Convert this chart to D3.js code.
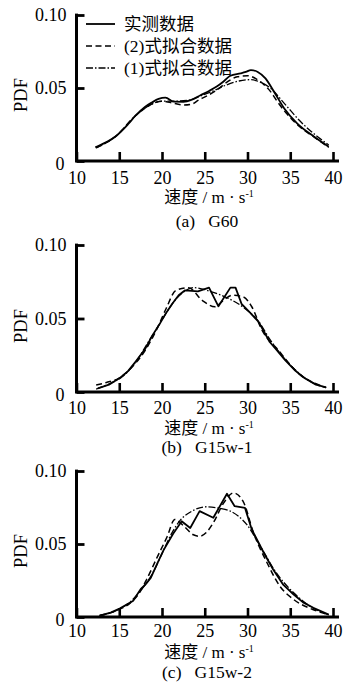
<!DOCTYPE html>
<html>
<head>
<meta charset="utf-8">
<script src="https://cdn.jsdelivr.net/npm/d3@7"></script>
<style>
  body { margin: 0; background: #fff; }
  text { font-family: "Liberation Serif", "Noto Sans CJK SC", serif; fill: #000; }
</style>
</head>
<body>
<svg id="chart"></svg>
<script>
var svgWidth = 350;
var svgHeight = 684;

// x ticks shared by all three panels
var speedTicks = [10, 15, 20, 25, 30, 35, 40];
var pdfTicks = [0, 0.05, 0.1];

var seriesNames = ['实测数据', '(2)式拟合数据', '(1)式拟合数据'];
var panelCaptions = ['(a)   G60', '(b)   G15w-1', '(c)   G15w-2'];

// (a) G60  [speed, pdf]
var g60Measured = [[12.2,0.0093],[13.5,0.013],[14.6,0.017],[16,0.025],[16.9,0.031],[18,0.037],[18.8,0.040],[19.6,0.0425],[20.4,0.0434],[21.4,0.0406],[22.5,0.0405],[23.5,0.042],[24.5,0.045],[25.5,0.048],[26.4,0.051],[27.2,0.0545],[28,0.0584],[29.2,0.060],[29.8,0.061],[30.4,0.0623],[31.2,0.061],[32.1,0.0566],[33.1,0.0475],[34.3,0.036],[35.8,0.0258],[37.8,0.0166],[39.5,0.0098]];
var g60Fit2 = [[12.3,0.009],[14.6,0.017],[16.9,0.031],[18.5,0.038],[20,0.041],[21,0.040],[22.5,0.0384],[23.5,0.039],[24.3,0.0418],[25.4,0.045],[26.4,0.0486],[27.6,0.054],[28.8,0.0577],[30,0.0584],[31.5,0.0543],[32.7,0.0475],[33.5,0.0406],[34.5,0.033],[36,0.024],[38,0.0155],[39.5,0.0093]];
var g60Fit1 = [[12.3,0.009],[14.6,0.017],[16.9,0.031],[18.5,0.038],[20,0.041],[21.5,0.041],[23,0.0415],[24.5,0.0445],[26,0.048],[27.5,0.052],[29,0.0548],[30.3,0.0557],[31.5,0.054],[32.7,0.0498],[34.3,0.0395],[36.2,0.027],[38.2,0.0166],[39.5,0.011]];

// (b) G15w-1
var g15w1Measured = [[12.5,0.0025],[13.8,0.005],[15,0.0093],[16,0.014],[16.9,0.0206],[18,0.029],[18.9,0.0387],[19.7,0.046],[20.4,0.053],[21.2,0.060],[21.95,0.0658],[22.7,0.0692],[24.2,0.0685],[25.5,0.071],[26.6,0.0583],[28,0.071],[28.6,0.071],[29.3,0.060],[30.3,0.054],[31.3,0.0477],[32.6,0.034],[33.5,0.028],[34.4,0.0217],[35.5,0.015],[36.7,0.0093],[38,0.005],[39.2,0.0032]];
var g15w1Fit2 = [[12.3,0.0047],[13.5,0.0065],[15,0.0095],[16.5,0.017],[18,0.028],[19.5,0.044],[20.5,0.057],[21.6,0.069],[23.1,0.071],[24.7,0.0624],[26.2,0.058],[27.2,0.0625],[28.2,0.0658],[29.5,0.0647],[30.5,0.058],[31.7,0.042],[33.6,0.0285],[35.2,0.0172],[36.3,0.011],[37.5,0.007],[39.2,0.003]];
var g15w1Fit1 = [[12.3,0.002],[14,0.006],[15.5,0.011],[17,0.021],[18.5,0.035],[20,0.049],[21.2,0.060],[22.3,0.067],[23.7,0.071],[25.9,0.068],[27.8,0.0636],[29.7,0.0568],[31.3,0.048],[32.6,0.036],[34,0.025],[35.5,0.0155],[37,0.0085],[38.3,0.0045],[39.2,0.003]];

// (c) G15w-2
var g15w2Measured = [[12.7,0.001],[14,0.003],[15.1,0.006],[16.6,0.011],[17.5,0.019],[18.1,0.0225],[18.7,0.027],[19.4,0.036],[20.2,0.046],[21.3,0.057],[22.3,0.0656],[23.3,0.061],[24.4,0.0725],[26,0.068],[27.6,0.0844],[28.5,0.0759],[29.7,0.0748],[30.5,0.060],[31.9,0.044],[33,0.0325],[34.2,0.022],[35.4,0.0154],[36.5,0.010],[37.7,0.0063],[39.5,0.0017]];
var g15w2Fit2 = [[12.7,0.001],[14.5,0.004],[16.3,0.0097],[17.3,0.016],[18.2,0.0257],[19.4,0.0405],[20.6,0.055],[21.5,0.0668],[22.6,0.062],[23.6,0.0565],[24.4,0.0553],[25.2,0.058],[26,0.0645],[27.2,0.078],[28.35,0.085],[29.5,0.079],[30.7,0.0577],[32.3,0.037],[33.8,0.021],[35.4,0.012],[37.7,0.005],[39.5,0.0015]];
var g15w2Fit1 = [[12.7,0.001],[14.5,0.004],[16,0.009],[17.5,0.018],[19,0.031],[20.2,0.046],[21.2,0.058],[22.1,0.066],[23.5,0.0725],[25.2,0.0755],[26.7,0.0745],[28,0.0725],[29.9,0.0634],[31.5,0.0485],[33.4,0.030],[35.4,0.0166],[37.7,0.006],[39.5,0.0015]];

var panels = [
  { top: 15,  zero: 161, tickPad: 10, titleGap: 36, captionGap: 60, smoothMeasured: true,
    series: [g60Measured, g60Fit2, g60Fit1], legend: true },
  { top: 245, zero: 392, tickPad: 9, titleGap: 36, captionGap: 55, smoothMeasured: false,
    series: [g15w1Measured, g15w1Fit2, g15w1Fit1], legend: false },
  { top: 471, zero: 617, tickPad: 7, titleGap: 35, captionGap: 55, smoothMeasured: false,
    series: [g15w2Measured, g15w2Fit2, g15w2Fit1], legend: false }
];

var dashes = [null, '6,3.5', '7,2,1.5,2'];
var lineWidths = [1.8, 1.5, 1.3];

var svg = d3.select('#chart')
  .attr('width', svgWidth)
  .attr('height', svgHeight);

var speedScale = d3.scaleLinear()
  .domain([10, 40])
  .range([76.5, 333]);

panels.forEach(function(p, k) {
  var pdfScale = d3.scaleLinear()
    .domain([0, 0.1])
    .range([p.zero, p.top]);

  var g = svg.append('g');

  // curves first, axes on top
  p.series.forEach(function(s, i) {
    // measured data in (b),(c) has sharp corners, fits are smooth
    var curve = (i === 0 && !p.smoothMeasured) ? d3.curveLinear : d3.curveMonotoneX;
    var line = d3.line()
      .x(function(d) { return speedScale(d[0]); })
      .y(function(d) { return pdfScale(d[1]); })
      .curve(curve);
    g.append('path')
      .datum(s)
      .attr('d', line)
      .attr('fill', 'none')
      .attr('stroke', '#000')
      .attr('stroke-width', lineWidths[i])
      .attr('stroke-linejoin', 'round')
      .attr('stroke-dasharray', dashes[i]);
  });

  // x axis
  var xAxis = g.append('g')
    .attr('transform', 'translate(0,' + p.zero + ')')
    .call(d3.axisBottom(speedScale)
      .tickValues(speedTicks)
      .tickSizeInner(-9)
      .tickSizeOuter(0)
      .tickPadding(p.tickPad));
  xAxis.select('.domain').remove();
  xAxis.selectAll('.tick line').attr('stroke-width', 2.6);
  xAxis.selectAll('.tick text').attr('font-size', 18);
  g.append('line')
    .attr('x1', speedScale(10) - 1.5).attr('x2', speedScale(40) + 6)
    .attr('y1', p.zero).attr('y2', p.zero)
    .attr('stroke', '#000').attr('stroke-width', 3);

  // y axis
  var yAxis = g.append('g')
    .attr('transform', 'translate(' + speedScale(10) + ',0)')
    .call(d3.axisLeft(pdfScale)
      .tickValues(pdfTicks)
      .tickSizeInner(-8)
      .tickSizeOuter(0)
      .tickPadding(10)
      .tickFormat(function(d) { return d === 0 ? '0' : d3.format('.2f')(d); }));
  yAxis.select('.domain').remove();
  yAxis.selectAll('.tick line').attr('stroke-width', 2.8);
  yAxis.selectAll('.tick text').attr('font-size', 18);
  yAxis.selectAll('.tick').filter(function(d) { return d === 0; })
    .select('text').attr('x', -12).attr('dy', '0.45em');
  g.append('line')
    .attr('x1', speedScale(10)).attr('x2', speedScale(10))
    .attr('y1', p.top - 1.4).attr('y2', p.zero)
    .attr('stroke', '#000').attr('stroke-width', 3);

  // axis titles
  g.append('text')
    .attr('transform', 'translate(21,' + (p.zero - 66) + ') rotate(-90)')
    .attr('text-anchor', 'middle')
    .attr('dy', '0.35em')
    .attr('font-size', 18.5)
    .text('PDF');

  var xt = g.append('text')
    .attr('x', 209)
    .attr('y', p.zero + p.titleGap)
    .attr('text-anchor', 'middle')
    .attr('dy', '0.35em')
    .attr('font-size', 17);
  xt.append('tspan').text('速度 / m · s');
  xt.append('tspan').attr('font-size', 10).attr('dy', '-0.6em').text('-1');

  g.append('text')
    .attr('x', 207)
    .attr('y', p.zero + p.captionGap)
    .attr('text-anchor', 'middle')
    .attr('dy', '0.35em')
    .attr('font-size', 17.5)
    .style('white-space', 'pre')
    .text(panelCaptions[k]);

  if (p.legend) {
    var legend = g.append('g');
    var rowY = [24, 46, 68];
    seriesNames.forEach(function(name, i) {
      legend.append('line')
        .attr('x1', 86).attr('x2', 115)
        .attr('y1', rowY[i]).attr('y2', rowY[i])
        .attr('stroke', '#000')
        .attr('stroke-width', lineWidths[i])
        .attr('stroke-dasharray', dashes[i]);
      legend.append('text')
        .attr('x', 124)
        .attr('y', rowY[i])
        .attr('dy', '0.35em')
        .attr('font-size', 17.5)
        .text(name);
    });
  }
});
</script>
</body>
</html>
